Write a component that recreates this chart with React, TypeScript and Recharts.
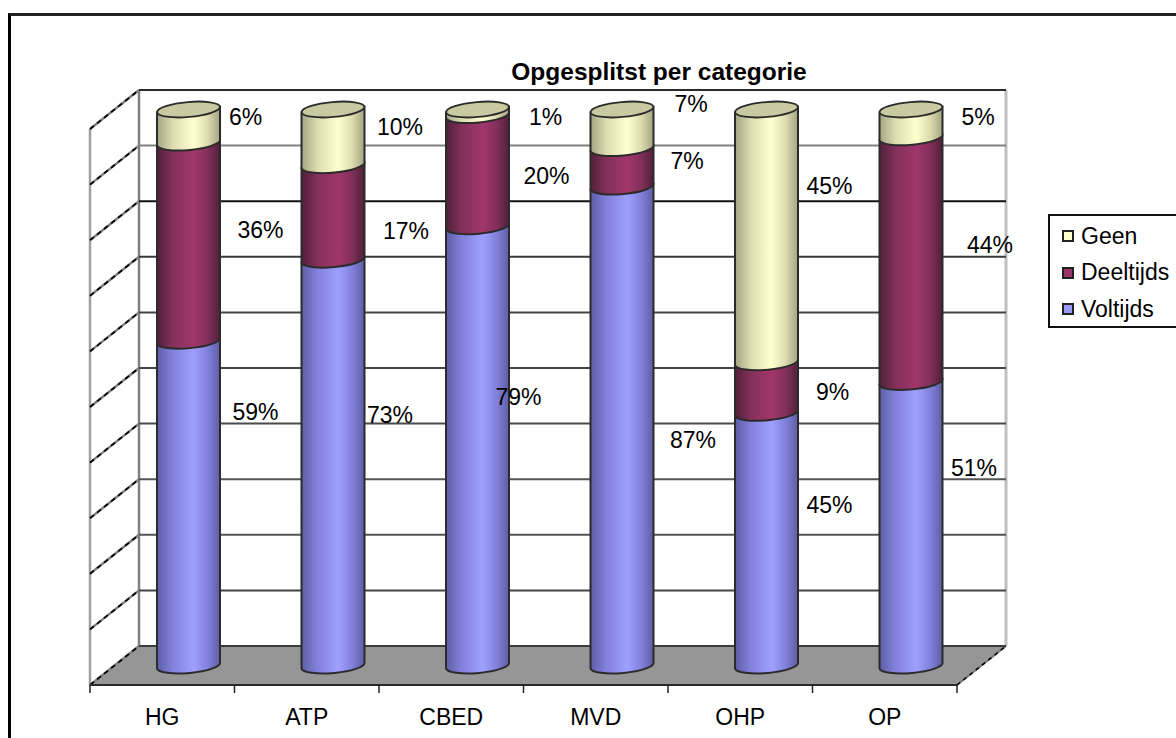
import { BarChart, Bar, XAxis, YAxis, CartesianGrid, Legend, LabelList } from "recharts";

const categories = ["HG", "ATP", "CBED", "MVD", "OHP", "OP"];
const voltijds = [59, 73, 79, 87, 45, 51];
const deeltijds = [36, 17, 20, 7, 9, 44];
const geen = [6, 10, 1, 7, 45, 5];
const yTicks = [0, 0.1, 0.2, 0.3, 0.4, 0.5, 0.6, 0.7, 0.8, 0.9, 1];

const data = categories.map((name, i) => ({
  name,
  voltijds: voltijds[i],
  deeltijds: deeltijds[i],
  geen: geen[i],
}));

const FONT = "'Liberation Sans', Arial, sans-serif";
const FONT_SIZE = 23;

// 3d look: the walls sit behind the front plane, the cylinders half way
const DEPTH_X = 49;
const DEPTH_Y = 39;
const BAR_DX = 26;
const BAR_DY = -19.5;
const FRONT_LEFT = 90;
const FRONT_RIGHT = 957;
const FRONT_TOP = 129;
const FRONT_BOTTOM = 685;
const BAND = (FRONT_RIGHT - FRONT_LEFT) / categories.length;

const RX = 31.5;
const RY = 7.5;
const TILT = 3;

// grid shades, bottom line first (the picture was scaled down, so they differ)
const GRID_SHADES = ["#3c3c3c", "#444", "#555", "#555", "#4a4a4a", "#444", "#444", "#3a3a3a", "#111", "#808080", "#2a2a2a"];

// label nudges from the middle of each segment, in category order
const NUDGE_VOL = [[67, -91], [57, -48], [41, -49], [71, 14], [63, -34], [63, -56]];
const NUDGE_DEEL = [[72, -12], [73, 19], [69, 5], [65, -6], [66, 4], [79, -15]];
const NUDGE_GEEN = [[57, -9], [67, -10], [68, 5], [69, -25], [63, -50], [67, -6]];

const Cylinder = (props: any) => {
  const { x, y, width, height, gradient, lid } = props;
  const left = x + BAR_DX;
  const right = left + width;
  const top = y + BAR_DY;
  const bottom = top + height;
  const body = `M${left},${top + TILT} L${right},${top - TILT} L${right},${bottom - TILT} A${RX},${RY} -5 0 1 ${left},${bottom + TILT} Z`;
  return (
    <g>
      <path d={body} fill={`url(#${gradient})`} stroke="#2b2b2b" strokeWidth={2} />
      {lid && (
        <ellipse
          cx={left + width / 2}
          cy={top}
          rx={RX}
          ry={RY}
          transform={`rotate(-5 ${left + width / 2} ${top})`}
          fill="#c9c9a2"
          stroke="#2b2b2b"
          strokeWidth={1.8}
        />
      )}
    </g>
  );
};

const gridLine = (props: any) => {
  const { x1, x2, y1 } = props;
  const level = Math.round((FRONT_BOTTOM - y1) / ((FRONT_BOTTOM - FRONT_TOP) / 10));
  const backY = y1 - DEPTH_Y;
  const backLeft = x1 + DEPTH_X;
  const backRight = x2 + DEPTH_X;
  return (
    <g key={level}>
      {level === 0 && (
        <g>
          <polygon
            points={`${x1},${y1} ${backLeft},${backY} ${backRight},${backY} ${x2},${y1}`}
            fill="#969696"
          />
          <line x1={x1} y1={FRONT_TOP} x2={x1} y2={y1} stroke="#a0a0a0" strokeWidth={2.5} />
          <line x1={backLeft} y1={FRONT_TOP - DEPTH_Y} x2={backLeft} y2={backY} stroke="#808080" strokeWidth={2.5} />
          <line x1={backRight} y1={FRONT_TOP - DEPTH_Y} x2={backRight} y2={backY} stroke="#c0c0c0" strokeWidth={3} />
          <line x1={x2} y1={y1} x2={backRight} y2={backY} stroke="#777" strokeWidth={2} />
          <line x1={x2} y1={y1} x2={backRight} y2={backY} stroke="#000" strokeWidth={1.5} strokeDasharray="4 4" />
        </g>
      )}
      <line x1={x1} y1={y1} x2={backLeft} y2={backY} stroke="#808080" strokeWidth={2.4} />
      <line x1={x1} y1={y1} x2={backLeft} y2={backY} stroke="#000" strokeWidth={1.7} strokeDasharray="5 4" />
      <line x1={backLeft} y1={backY} x2={backRight} y2={backY} stroke={GRID_SHADES[level]} strokeWidth={2} />
    </g>
  );
};

const CategoryTick = (props: any) => {
  const { x, payload, index } = props;
  const isLast = index === categories.length - 1;
  return (
    <g>
      <line x1={x - BAND / 2} y1={FRONT_BOTTOM} x2={x - BAND / 2} y2={FRONT_BOTTOM + 8} stroke="#222" strokeWidth={1.5} />
      {isLast && (
        <line x1={x + BAND / 2} y1={FRONT_BOTTOM} x2={x + BAND / 2} y2={FRONT_BOTTOM + 8} stroke="#222" strokeWidth={1.5} />
      )}
      <text x={x} y={FRONT_BOTTOM + 40} textAnchor="middle" fontFamily={FONT} fontSize={FONT_SIZE} fill="#000">
        {payload.value}
      </text>
    </g>
  );
};

// segment labels, placed by hand like the original chart
const segmentLabel = (nudges: number[][]) => (props: any) => {
  const { x, y, width, height, value, index } = props;
  const [dx, dy] = nudges[index];
  return (
    <text
      x={x + BAR_DX + width / 2 + dx}
      y={y + BAR_DY + height / 2 + dy}
      textAnchor="middle"
      dominantBaseline="central"
      fontFamily={FONT}
      fontSize={FONT_SIZE}
      fill="#000"
    >
      {value}%
    </text>
  );
};

const legendItems = [
  { label: "Geen", color: "#ffffcc" },
  { label: "Deeltijds", color: "#993366" },
  { label: "Voltijds", color: "#9999ff" },
];

const LegendBox = () => (
  <div
    style={{
      boxSizing: "border-box",
      width: 128,
      height: 114,
      borderLeft: "2px solid #111",
      borderTop: "2px solid #111",
      borderBottom: "2px solid #111",
      paddingLeft: 12,
      paddingTop: 2,
      fontFamily: FONT,
      fontSize: FONT_SIZE,
      color: "#000",
    }}
  >
    {legendItems.map((item) => (
      <div key={item.label} style={{ display: "flex", alignItems: "center", height: 36.5 }}>
        <span
          style={{
            display: "inline-block",
            boxSizing: "border-box",
            width: 12,
            height: 12,
            marginRight: 7,
            background: item.color,
            border: "2px solid #222",
          }}
        />
        {item.label}
      </div>
    ))}
  </div>
);

const shade = (id: string, dark: string, mid: string, light: string) => (
  <linearGradient id={id} x1="0" y1="0" x2="1" y2="0">
    <stop offset="0%" stopColor={dark} />
    <stop offset="25%" stopColor={mid} />
    <stop offset="58%" stopColor={light} />
    <stop offset="80%" stopColor={mid} />
    <stop offset="100%" stopColor={dark} />
  </linearGradient>
);

export default function App() {
  return (
    <div style={{ position: "absolute", left: 0, top: 0, width: 1176, height: 738, overflow: "hidden", background: "#fff" }}>
      <div style={{ position: "absolute", left: 8, top: 13, right: 0, bottom: 0, borderLeft: "3px solid #000", borderTop: "3px solid #222" }} />
      <div style={{ position: "absolute", left: 0, top: 0 }}>
        <BarChart
          width={1176}
          height={738}
          data={data}
          stackOffset="expand"
          barSize={63}
          margin={{ top: FRONT_TOP, left: FRONT_LEFT, right: 1176 - FRONT_RIGHT, bottom: 0 }}
        >
          <defs>
            {shade("gradVol", "#5d5da6", "#8282dc", "#9f9fff")}
            {shade("gradDeel", "#50203a", "#83305a", "#a1366c")}
            {shade("gradGeen", "#a4a483", "#dcdcb0", "#ffffcf")}
          </defs>
          <text x={659} y={71} textAnchor="middle" dominantBaseline="central" fontFamily={FONT} fontSize={24.5} fontWeight="bold" fill="#000">
            Opgesplitst per categorie
          </text>
          <CartesianGrid vertical={false} horizontal={gridLine} />
          <XAxis dataKey="name" height={738 - FRONT_BOTTOM} axisLine={{ stroke: "#2b2b2b", strokeWidth: 2 }} tickLine={false} tick={CategoryTick} interval={0} />
          <YAxis hide domain={[0, 1]} ticks={yTicks} />
          <Bar dataKey="voltijds" stackId="a" isAnimationActive={false} shape={(p: any) => <Cylinder {...p} gradient="gradVol" />}>
            <LabelList dataKey="voltijds" content={segmentLabel(NUDGE_VOL)} />
          </Bar>
          <Bar dataKey="deeltijds" stackId="a" isAnimationActive={false} shape={(p: any) => <Cylinder {...p} gradient="gradDeel" />}>
            <LabelList dataKey="deeltijds" content={segmentLabel(NUDGE_DEEL)} />
          </Bar>
          <Bar dataKey="geen" stackId="a" isAnimationActive={false} shape={(p: any) => <Cylinder {...p} gradient="gradGeen" lid />}>
            <LabelList dataKey="geen" content={segmentLabel(NUDGE_GEEN)} />
          </Bar>
          <Legend layout="vertical" align="center" verticalAlign="middle" content={LegendBox} wrapperStyle={{ left: 1048, top: 214, width: 128 }} />
        </BarChart>
      </div>
    </div>
  );
}
